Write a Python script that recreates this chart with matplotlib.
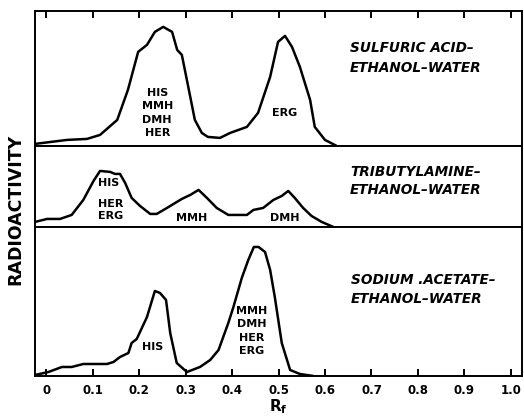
import matplotlib.pyplot as plt

# Rf positions and radioactivity (arbitrary units)
rf_sulfuric = [-0.024, 0.045, 0.088, 0.116, 0.153, 0.176, 0.198, 0.217, 0.234, 0.252,
               0.271, 0.282, 0.292, 0.305, 0.320, 0.335, 0.348, 0.374, 0.396, 0.432,
               0.456, 0.482, 0.499, 0.514, 0.529, 0.546, 0.568, 0.578, 0.600, 0.625]
act_sulfuric = [2, 6, 7, 11, 26, 56, 94, 101, 114, 119,
                114, 96, 91, 61, 26, 13, 9, 8, 13, 19,
                33, 69, 104, 110, 99, 79, 46, 19, 6, 0]

rf_tributyl = [-0.024, 0.002, 0.030, 0.055, 0.080, 0.102, 0.116, 0.138, 0.148, 0.159,
               0.170, 0.184, 0.202, 0.224, 0.238, 0.260, 0.292, 0.310, 0.328, 0.346,
               0.367, 0.392, 0.432, 0.446, 0.467, 0.489, 0.507, 0.521, 0.535, 0.553,
               0.571, 0.593, 0.618]
act_tributyl = [5, 8, 8, 12, 27, 46, 56, 55, 53, 53,
                44, 29, 21, 13, 13, 19, 28, 32, 37, 29,
                19, 12, 12, 17, 19, 27, 31, 36, 29, 19,
                11, 5, 0]

rf_acetate = [-0.024, 0.005, 0.034, 0.055, 0.080, 0.131, 0.145, 0.159, 0.177, 0.184,
              0.195, 0.217, 0.234, 0.245, 0.258, 0.267, 0.281, 0.303, 0.331, 0.353,
              0.371, 0.392, 0.403, 0.421, 0.435, 0.447, 0.457, 0.471, 0.482, 0.492,
              0.507, 0.525, 0.546, 0.575]
act_acetate = [1, 4, 9, 9, 12, 12, 14, 19, 23, 33,
               37, 59, 85, 83, 76, 43, 13, 4, 9, 16,
               26, 53, 69, 98, 116, 129, 129, 124, 106, 79,
               33, 6, 2, 0]

solvents = ['SULFURIC ACID–\nETHANOL–WATER',
            'TRIBUTYLAMINE–\nETHANOL–WATER',
            'SODIUM .ACETATE–\nETHANOL–WATER']
tick_vals = [0, 0.1, 0.2, 0.3, 0.4, 0.5, 0.6, 0.7, 0.8, 0.9, 1.0]
tick_labels = ['0', '0.1', '0.2', '0.3', '0.4', '0.5', '0.6', '0.7', '0.8', '0.9', '1.0']

fig, axes = plt.subplots(3, 1, figsize=(5.24, 4.18), dpi=100, sharex=True,
                         gridspec_kw={'height_ratios': [135, 81, 149], 'hspace': 0})
fig.subplots_adjust(left=0.067, right=0.996, top=0.974, bottom=0.1005)

series = [(rf_sulfuric, act_sulfuric, 135),
          (rf_tributyl, act_tributyl, 81),
          (rf_acetate, act_acetate, 149)]

for ax, (x, y, top) in zip(axes, series):
    ax.plot(x, y, color='black', lw=1.8, solid_joinstyle='round', solid_capstyle='round')
    ax.set_xlim(-0.0237, 1.0237)
    ax.set_ylim(0, top)
    ax.set_yticks([])
    for s in ax.spines.values():
        s.set_linewidth(1.4)
    ax.tick_params(axis='x', direction='in', length=5, width=1.4, bottom=False, labelbottom=False)

# solvent system labels
solv = dict(fontsize=9.8, fontweight='bold', fontstyle='italic', ha='left', va='center')
axes[0].text(0.654, 88, solvents[0], linespacing=1.5, **solv)
axes[1].text(0.654, 46, solvents[1], linespacing=1.4, **solv)
axes[2].text(0.656, 86, solvents[2], linespacing=1.45, **solv)

lab = dict(fontsize=8, fontweight='bold', va='center')
# peak labels
axes[0].text(0.239, 33, 'HIS\nMMH\nDMH\nHER', ha='center', linespacing=1.42, **lab)
axes[0].text(0.514, 33, 'ERG', ha='center', **lab)
axes[1].text(0.112, 44, 'HIS', ha='left', **lab)
axes[1].text(0.112, 17, 'HER\nERG', ha='left', linespacing=1.3, **lab)
axes[1].text(0.314, 9, 'MMH', ha='center', **lab)
axes[1].text(0.514, 9, 'DMH', ha='center', **lab)
axes[2].text(0.230, 29, 'HIS', ha='center', **lab)
axes[2].text(0.443, 45, 'MMH\nDMH\nHER\nERG', ha='center', linespacing=1.45, **lab)

# tick marks: top of first panel, bottom of last panel
axes[0].set_xticks(tick_vals)
axes[0].tick_params(axis='x', top=True, direction='in', length=5, width=1.4)
axes[2].tick_params(axis='x', bottom=True, labelbottom=True, direction='in',
                    length=5, width=1.4, pad=6, labelsize=8.5)
axes[2].set_xticks(tick_vals, tick_labels, fontweight='bold')
axes[2].set_xlabel(r'$\mathbf{R_f}$', fontsize=11, labelpad=0)

fig.text(0.03, 0.5, 'RADIOACTIVITY', rotation=90, fontsize=12.5, fontweight='bold',
         ha='center', va='center')

fig.savefig('out.png', dpi=100, facecolor='white')
